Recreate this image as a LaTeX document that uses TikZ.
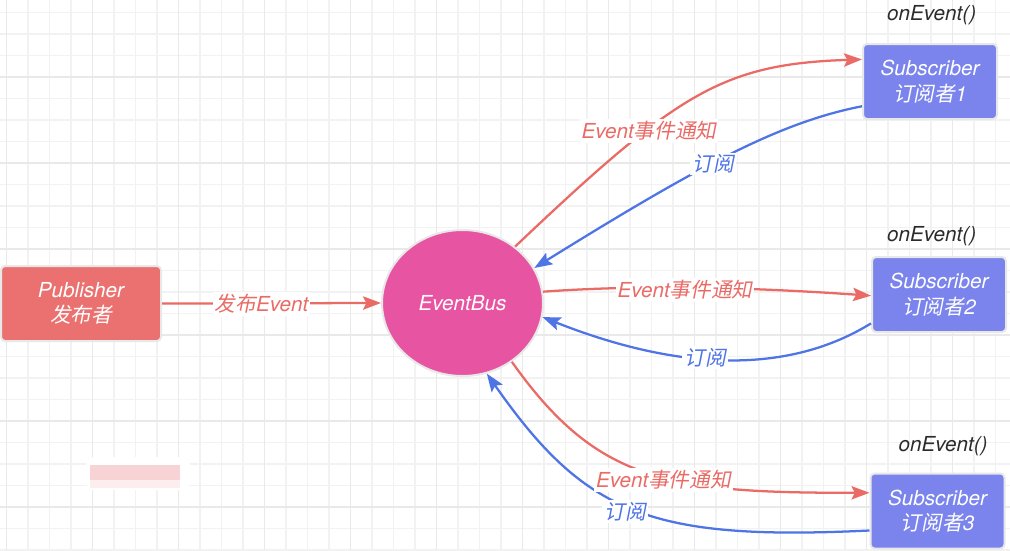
\documentclass[tikz,border=0pt]{standalone}
\usepackage{fontspec}
\setmainfont{TeX Gyre Heros}
\newfontfamily\cjk{Noto Sans CJK SC}[FakeSlant=0.2]
\usetikzlibrary{shapes.geometric,arrows.meta}
\definecolor{redc}{HTML}{EA6B66}
\definecolor{pubfill}{HTML}{EA716F}
\definecolor{busfill}{HTML}{E754A2}
\definecolor{subfill}{HTML}{7A84EC}
\definecolor{bluec}{HTML}{4E74E6}
\definecolor{gridminor}{HTML}{F2F2F2}
\definecolor{gridmajor}{HTML}{E9E9E9}
\definecolor{edgec}{HTML}{E8E8E8}
\definecolor{darktext}{HTML}{2B2B2B}
\definecolor{blurpink}{HTML}{F7D3D5}
\definecolor{blurlight}{HTML}{FCEEEF}
\tikzset{
  txt/.style={font=\fontsize{15.5pt}{19pt}\selectfont\itshape},
  boxbase/.style={txt, rectangle, rounded corners=3pt, draw=edgec, line width=1.5pt,
    text=white, align=center, minimum height=56.25pt, inner sep=0pt},
  pubbox/.style={boxbase, fill=pubfill, minimum width=120pt},
  subbox/.style={boxbase, fill=subfill, minimum width=100.5pt},
  busnode/.style={txt, ellipse, draw=edgec, line width=1.5pt, fill=busfill, text=white,
    minimum width=120.75pt, minimum height=109.5pt, inner sep=0pt},
  tip/.style={-{Stealth[length=13.5pt,width=10pt,inset=2.5pt]}},
  redarrow/.style={draw=redc, line width=1.7pt, tip},
  bluearrow/.style={draw=bluec, line width=1.7pt, tip},
  redlab/.style={txt, text=redc, fill=white, inner sep=1.5pt},
  bluelab/.style={txt, text=bluec, fill=white, inner sep=1.5pt},
  onev/.style={txt, text=darktext, inner sep=0pt},
  gminor/.style={draw=gridminor, line width=1.1pt},
  gmajor/.style={draw=gridmajor, line width=1.1pt}
}
\begin{document}
\begin{tikzpicture}[x=0.75pt,y=-0.75pt]
\useasboundingbox (0,0) rectangle (1010,550);
\fill[white] (0,0) rectangle (1010,550);
\begin{scope}
\clip (0,0) rectangle (1010,550);
\foreach \k in {0,...,46} \draw[gminor] ({6.7+21.5*\k},0) -- ({6.7+21.5*\k},550);
\foreach \j in {0,...,25} \draw[gminor] (0,{12.7+21.5*\j}) -- (1010,{12.7+21.5*\j});
\foreach \k in {0,4,...,44} \draw[gmajor] ({6.7+21.5*\k},0) -- ({6.7+21.5*\k},550);
\foreach \j in {3,7,...,23} \draw[gmajor] (0,{12.7+21.5*\j}) -- (1010,{12.7+21.5*\j});
\end{scope}

% blurred patch
\fill[white, rounded corners=6pt] (86,457) rectangle (190,490);
\fill[blurpink] (90,465) rectangle (180,480);
\fill[blurlight] (90,480) rectangle (180,488);

% nodes
\node[pubbox] (pub) at (81,303.5) {Publisher\\{\cjk 发布者}};
\node[busnode] (bus) at (462.5,303) {EventBus};
\node[subbox] (sub1) at (930,81.5) {Subscriber\\{\cjk 订阅者}1};
\node[subbox] (sub2) at (939,294.5) {Subscriber\\{\cjk 订阅者}2};
\node[subbox] (sub3) at (937.5,511) {Subscriber\\{\cjk 订阅者}3};

\node[onev] (on1) at (931.7,15) {onEvent()};
\node[onev] (on2) at (931.7,236) {onEvent()};
\node[onev] (on3) at (943,446) {onEvent()};

% connectors
\draw[redarrow] (pub.east) -- (bus.west);
\draw[redarrow] (bus.47) .. controls (677,93) and (722,64) .. (sub1.162);
\draw[bluearrow] (sub1.200) .. controls (782,122) and (705,162) .. (bus.26);
\draw[redarrow] (bus.8) .. controls (650,284) and (760,288) .. (sub2.181);
\draw[bluearrow] (sub2.203) .. controls (789,374) and (681,372) .. (bus.350);
\draw[redarrow] (bus.310) .. controls (597,482) and (668,493) .. (sub3.165);
\draw[bluearrow] (sub3.196) .. controls (650,541) and (585,514) .. (bus.289);

% labels
\node[redlab] (l0) at (261.5,304) {{\cjk 发布}Event};
\node[redlab] (l1) at (649,131) {Event{\cjk 事件通知}};
\node[bluelab] (l2) at (713,164) {{\cjk 订阅}};
\node[redlab] (l3) at (685,290) {Event{\cjk 事件通知}};
\node[bluelab] (l4) at (705,357.5) {{\cjk 订阅}};
\node[redlab] (l5) at (663.5,480) {Event{\cjk 事件通知}};
\node[bluelab] (l6) at (625,511.5) {{\cjk 订阅}};
\end{tikzpicture}
\end{document}
